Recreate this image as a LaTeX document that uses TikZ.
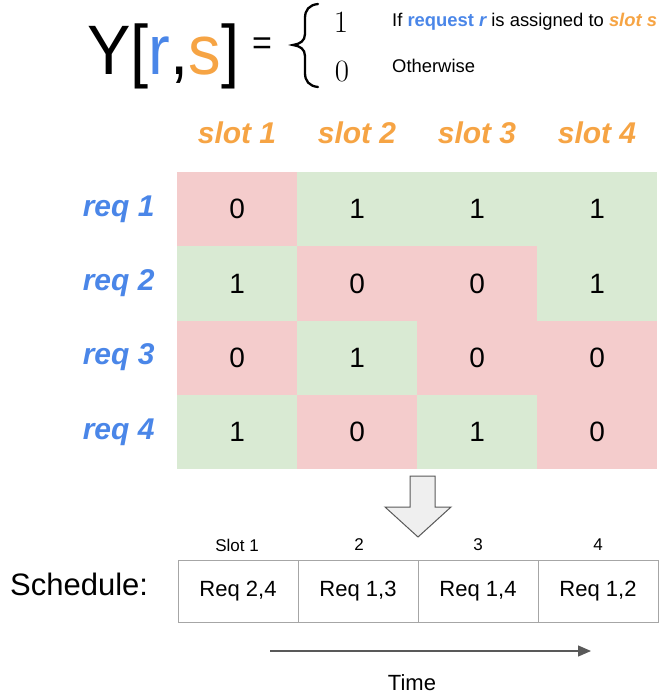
\documentclass[tikz,border=0pt]{standalone}
\usepackage{fontspec}
\setmainfont{Liberation Sans}
\newfontfamily\lmroman{Latin Modern Roman}
\usetikzlibrary{arrows.meta}

\definecolor{cellred}{HTML}{F4CCCC}
\definecolor{cellgreen}{HTML}{D9EAD3}
\definecolor{reqblue}{HTML}{4A86E8}
\definecolor{slotorange}{HTML}{F6A444}
\definecolor{boxgray}{HTML}{A6A6A6}
\definecolor{arrowgray}{HTML}{595959}
\definecolor{blockfill}{HTML}{EFEFEF}

\newcommand{\fsz}[1]{\fontsize{#1}{#1}\selectfont}

\tikzset{
  cell/.style={minimum width=120pt, minimum height=74.25pt, inner sep=0pt,
    anchor=north west, font=\fsz{28}},
  redcell/.style={cell, fill=cellred},
  greencell/.style={cell, fill=cellgreen},
  slothead/.style={font=\fsz{30}\bfseries\itshape, text=slotorange, anchor=center},
  reqhead/.style={font=\fsz{30}\bfseries\itshape, text=reqblue, anchor=east},
  schedbox/.style={draw=boxgray, line width=1pt, minimum width=120pt,
    minimum height=62pt, inner sep=0pt, font=\fsz{22}, anchor=north west},
  schedlabel/.style={font=\fsz{17}, anchor=center},
  casetext/.style={font=\fsz{18.4}, anchor=base west, inner sep=0pt},
  casedigit/.style={font=\fsz{31}\lmroman, inner sep=0pt, anchor=base},
  timearrow/.style={draw=arrowgray, line width=1.2pt,
    -{Triangle[length=13pt, width=11pt]}},
}

\begin{document}
\begin{tikzpicture}[x=1pt, y=-1pt]
  \useasboundingbox (0,0) rectangle (660,698);

  % definition of Y[r,s]
  \node[anchor=base west, inner sep=0pt, font=\fsz{70}, xscale=0.93]
    (ydef) at (87,75) {Y[\textcolor{reqblue}{r},\textcolor{slotorange}{s}]};
  \node[font=\fsz{34}, inner sep=0pt] (eq) at (262,46) {=};

  % curly brace of the two cases
  \draw[line width=2.3pt, line cap=round]
    (318,4) .. controls (309,5) and (305,10) .. (305,18) -- (305,34)
    .. controls (305,41) and (300,44) .. (293,45)
    .. controls (300,46) and (305,49) .. (305,56) -- (305,73)
    .. controls (305,81) and (309,86) .. (318,87);

  \node[casedigit] (one) at (341,33) {1};
  \node[casedigit] (zero) at (342,82) {0};
  \node[casetext] (case1) at (392,27)
    {If \textcolor{reqblue}{\bfseries request \itshape r} is assigned to
     \textcolor{slotorange}{\bfseries\itshape slot s}};
  \node[casetext] (case0) at (392,73) {Otherwise};

  % slot column headings
  \foreach \s in {1,...,4}
    \node[slothead] (slot\s) at ({177+120*(\s-1)+60},133) {slot \s};

  % request row headings
  \foreach \r in {1,...,4}
    \node[reqhead] (req\r) at (158,{172+74.25*(\r-1)+37.1}) {req \r};

  % assignment matrix Y
  \foreach \r/\row in {1/{0,1,1,1}, 2/{1,0,0,1}, 3/{0,1,0,0}, 4/{1,0,1,0}} {
    \foreach \v [count=\s] in \row {
      \ifnum\v=1
        \node[greencell] (c\r\s) at ({177+120*(\s-1)},{172+74.25*(\r-1)}) {\v};
      \else
        \node[redcell] (c\r\s) at ({177+120*(\s-1)},{172+74.25*(\r-1)}) {\v};
      \fi
    }
  }

  % block arrow from matrix to schedule
  \draw[draw=arrowgray, fill=blockfill, line width=1pt, line join=miter]
    (410,476) -- (435,476) -- (435,507) -- (451,507) -- (418,537)
    -- (385,507) -- (410,507) -- cycle;

  % schedule row
  \node[font=\fsz{31}, anchor=base west, inner sep=0pt] (schedule) at (10,595) {Schedule:};
  \foreach \s/\txt in {1/{Req 2,4}, 2/{Req 1,3}, 3/{Req 1,4}, 4/{Req 1,2}}
    \node[schedbox] (b\s) at ({177.5+120*(\s-1)},560) {\txt};
  \node[schedlabel] (sl1) at (237,545) {Slot 1};
  \node[schedlabel] (sl2) at (359,545) {2};
  \node[schedlabel] (sl3) at (478,545) {3};
  \node[schedlabel] (sl4) at (598,545) {4};

  % time axis
  \coordinate (t0) at (270,651);
  \coordinate (t1) at (591,651);
  \draw[timearrow] (t0) -- (t1);
  \node[font=\fsz{22}] (time) at (412,683) {Time};
\end{tikzpicture}
\end{document}
